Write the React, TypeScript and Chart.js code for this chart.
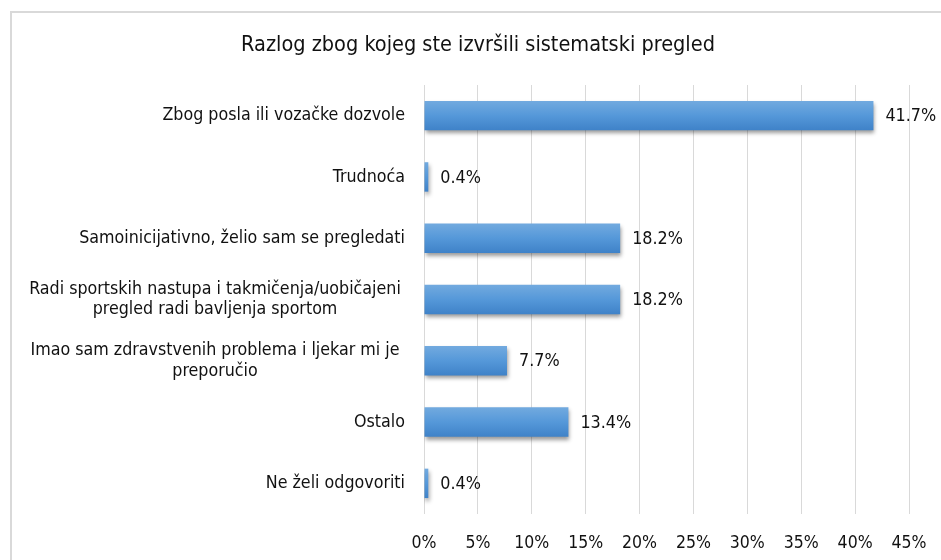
import React, { useEffect, useRef } from "react";
import { Chart, registerables } from "chart.js";

Chart.register(...registerables);

const TITLE = "Razlog zbog kojeg ste izvršili sistematski pregled";
const categories: (string | string[])[] = [
  "Zbog posla ili vozačke dozvole",
  "Trudnoća",
  "Samoinicijativno, želio sam se pregledati",
  ["Radi sportskih nastupa i takmičenja/uobičajeni", "pregled radi bavljenja sportom"],
  ["Imao sam zdravstvenih problema i ljekar mi je", "preporučio"],
  "Ostalo",
  "Ne želi odgovoriti",
];
const values = [41.7, 0.4, 18.2, 18.2, 7.7, 13.4, 0.4];
const xTicks = [0, 5, 10, 15, 20, 25, 30, 35, 40, 45];

const FONT = '"Liberation Sans Narrow", "DejaVu Sans Condensed", "Roboto Condensed", "Liberation Sans", sans-serif';
const BAR_PCT = 0.48;
const TEXT = "#111111";

const framePlugin = {
  id: "frame",
  beforeDraw(chart: any) {
    const ctx = chart.ctx;
    ctx.save();
    ctx.fillStyle = "#ffffff";
    ctx.fillRect(0, 0, chart.width, chart.height);
    ctx.strokeStyle = "#d9d9d9";
    ctx.lineWidth = 2;
    ctx.strokeRect(11, 12, chart.width + 20, chart.height + 20);
    // title
    ctx.fillStyle = TEXT;
    ctx.font = `21.5px ${FONT}`;
    ctx.textAlign = "center";
    ctx.textBaseline = "middle";
    ctx.fillText(TITLE, 478, 45);
    ctx.restore();
  },
};

const shadowPlugin = {
  id: "barShadow",
  beforeDatasetsDraw(chart: any) {
    const ctx = chart.ctx;
    ctx.save();
    ctx.shadowColor = "rgba(0,0,0,0.4)";
    ctx.shadowBlur = 4;
    ctx.shadowOffsetX = 1;
    ctx.shadowOffsetY = 3;
  },
  afterDatasetsDraw(chart: any) {
    chart.ctx.restore();
  },
};

const labelsPlugin = {
  id: "customLabels",
  afterDraw(chart: any) {
    const ctx = chart.ctx;
    const y = chart.scales.y;
    const area = chart.chartArea;
    ctx.save();
    ctx.fillStyle = TEXT;
    ctx.font = `17.7px ${FONT}`;
    ctx.textBaseline = "middle";
    categories.forEach((lab, i) => {
      const cy = y.getPixelForValue(i);
      if (Array.isArray(lab)) {
        ctx.textAlign = "center";
        const lh = 20.5;
        const start = cy - ((lab.length - 1) * lh) / 2;
        lab.forEach((line, k) => ctx.fillText(line, area.left - 209, start + k * lh));
      } else {
        ctx.textAlign = "right";
        ctx.fillText(lab, area.left - 19, cy);
      }
    });
    // value labels
    const meta = chart.getDatasetMeta(0);
    ctx.font = `17.8px ${FONT}`;
    ctx.textAlign = "left";
    meta.data.forEach((el: any, i: number) => {
      ctx.fillText(values[i].toFixed(1) + "%", el.x + 12, el.y + 1);
    });
    ctx.restore();
  },
};

export default function App() {
  const ref = useRef<HTMLCanvasElement>(null);
  useEffect(() => {
    if (!ref.current) return;
    const chart = new Chart(ref.current, {
      type: "bar",
      data: {
        labels: categories.map((c) => (Array.isArray(c) ? c.join(" ") : c)),
        datasets: [
          {
            data: values,
            backgroundColor: (context: any) => {
              const ch = context.chart;
              if (context.type !== "data" || !ch.scales || !ch.scales.y || !ch.chartArea) return "#5b9bd5";
              const ys = ch.scales.y;
              const cy = ys.getPixelForValue(context.dataIndex);
              const h = ((ch.chartArea.bottom - ch.chartArea.top) / categories.length) * BAR_PCT;
              const g = ch.ctx.createLinearGradient(0, cy - h / 2, 0, cy + h / 2);
              g.addColorStop(0, "#72aadf");
              g.addColorStop(0.5, "#5598d9");
              g.addColorStop(1, "#3f82c8");
              return g;
            },
            borderWidth: 0,
            categoryPercentage: 1,
            barPercentage: BAR_PCT,
          },
        ],
      },
      options: {
        indexAxis: "y",
        responsive: false,
        animation: false,
        devicePixelRatio: 1,
        layout: { padding: { left: 424, right: 32, top: 85, bottom: 0 } },
        plugins: {
          legend: { display: false },
          tooltip: { enabled: false },
          title: { display: false },
        },
        scales: {
          x: {
            type: "linear",
            min: 0,
            max: 45,
            afterBuildTicks: (scale: any) => {
              scale.ticks = xTicks.map((v) => ({ value: v }));
            },
            afterFit: (scale: any) => {
              scale.height = 46;
              scale.paddingLeft = 0;
              scale.paddingRight = 0;
            },
            ticks: {
              callback: (v: any) => v + "%",
              color: TEXT,
              font: { family: FONT, size: 17.5 },
              padding: 19,
              maxRotation: 0,
              autoSkip: false,
            },
            grid: { color: "#d9d9d9", lineWidth: 1, drawTicks: false },
            border: { display: false },
          },
          y: {
            display: false,
            grid: { display: false },
          },
        },
      },
      plugins: [framePlugin, shadowPlugin, labelsPlugin],
    } as any);
    return () => chart.destroy();
  }, []);
  return (
    <div style={{ position: "fixed", left: 0, top: 0, width: 941, height: 560, background: "#fff" }}>
      <canvas ref={ref} width={941} height={560} style={{ display: "block", width: 941, height: 560 }} />
    </div>
  );
}
